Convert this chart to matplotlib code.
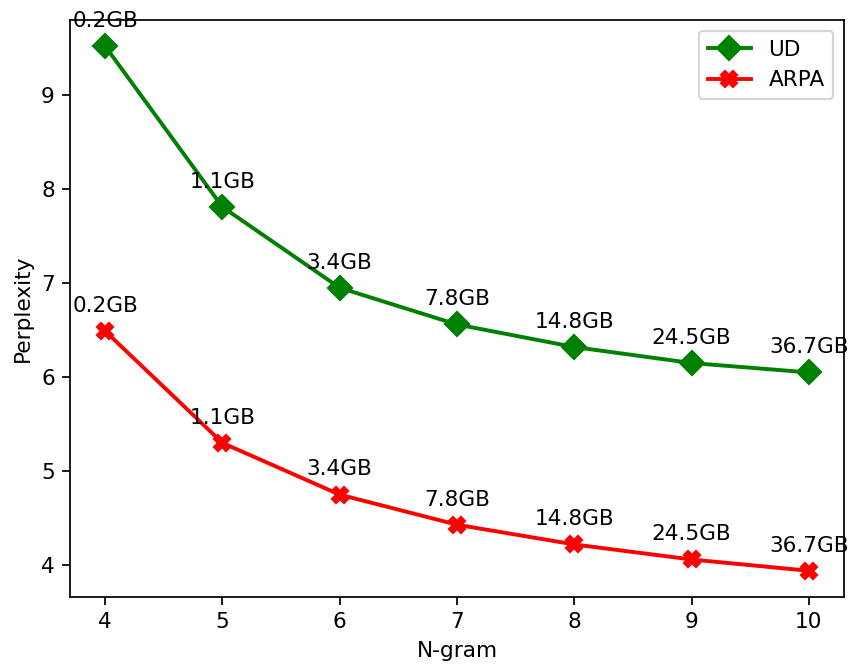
import matplotlib
matplotlib.use("Agg")
import matplotlib.pyplot as plt

ngram = [4, 5, 6, 7, 8, 9, 10]
sizes = ["0.2GB", "1.1GB", "3.4GB", "7.8GB", "14.8GB", "24.5GB", "36.7GB"]
ud = [9.52, 7.81, 6.95, 6.56, 6.32, 6.15, 6.05]
arpa = [6.49, 5.30, 4.75, 4.43, 4.22, 4.06, 3.94]

dpi = 156
fig = plt.figure(figsize=(848 / dpi, 667 / dpi), dpi=dpi)
ax = fig.add_axes([70 / 848, 70 / 667, 774 / 848, 577 / 667])

ax.plot(ngram, ud, color="green", marker="D", markersize=8, linewidth=1.8, label="UD")
ax.plot(ngram, arpa, color="red", marker="X", markersize=7, linewidth=1.8, label="ARPA")

for x, y, s in zip(ngram, ud, sizes):
    ax.annotate(s, (x, y), xytext=(0, 7), textcoords="offset points",
                ha="center", va="bottom", annotation_clip=False)
for x, y, s in zip(ngram, arpa, sizes):
    ax.annotate(s, (x, y), xytext=(0, 7), textcoords="offset points",
                ha="center", va="bottom", annotation_clip=False)

ax.set_xlabel("N-gram")
ax.set_ylabel("Perplexity")
ax.legend(loc="upper right")

fig.savefig("out.png", dpi=dpi)
